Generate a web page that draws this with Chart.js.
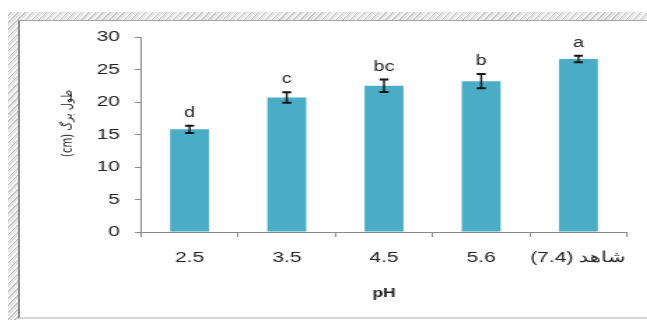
<!DOCTYPE html>
<html>
<head>
<meta charset="utf-8">
<script src="https://cdn.jsdelivr.net/npm/chart.js@4"></script>
<style>
body { margin:0; background:#fff; width:647px; height:320px; overflow:hidden; position:relative; }
.hatch { position:absolute; background: repeating-linear-gradient(135deg, #f3f3f3 0 2px, #c9c9c9 2px 3px, #e4e4e4 3px 5px); }
#top { left:8px; top:12px; width:639px; height:8px; }
#left { left:8px; top:12px; width:10px; height:308px; }
#frame { position:absolute; left:18px; top:20px; width:629px; height:296px; border-left:2px solid #8c8c8c; border-top:1px solid #a6a6a6; border-bottom:2px solid #d4d4d4; }
#wrap { position:absolute; left:20px; top:22px; width:448px; height:294px; transform:scaleX(1.4); transform-origin:0 0; }
</style>
</head>
<body>
<div class="hatch" id="top"></div>
<div class="hatch" id="left"></div>
<div id="frame"></div>
<div id="wrap"><canvas id="chart" width="448" height="294" dir="rtl"></canvas></div>
<script>
// values
const categories = ['2.5', '3.5', '4.5', '5.6', 'شاهد (7.4)'];
const leafLength = [15.8, 20.7, 22.5, 23.2, 26.6];
const stdError = [0.55, 0.8, 0.95, 1.1, 0.5];
const groupLetters = ['d', 'c', 'bc', 'b', 'a'];
const yMin = 0, yMax = 30, yStep = 5;

const axisGray = '#8a8a8a';
const textCol = '#222';

// error bars + letters drawn on top of the bars
let errorBars = {
    id: 'errorBars',
    afterDatasetsDraw: chart => {
        let ctx = chart.ctx;
        let y = chart.scales.y;
        let meta = chart.getDatasetMeta(0);
        ctx.save();
        meta.data.forEach((bar, i) => {
            let top = y.getPixelForValue(leafLength[i] + stdError[i]);
            let bot = y.getPixelForValue(leafLength[i] - stdError[i]);
            ctx.strokeStyle = '#111';
            ctx.lineWidth = 1.4;
            ctx.beginPath();
            ctx.moveTo(bar.x, top);
            ctx.lineTo(bar.x, bot);
            ctx.stroke();
            ctx.lineWidth = 2;
            ctx.beginPath();
            ctx.moveTo(bar.x - 3.2, top);
            ctx.lineTo(bar.x + 3.2, top);
            ctx.moveTo(bar.x - 3.2, bot);
            ctx.lineTo(bar.x + 3.2, bot);
            ctx.stroke();

            ctx.fillStyle = textCol;
            ctx.font = '14px "Liberation Sans", Arial, sans-serif';
            ctx.textAlign = 'center';
            ctx.textBaseline = 'alphabetic';
            ctx.fillText(groupLetters[i], bar.x, top - 9);
        });
        ctx.restore();
    }
};

new Chart(document.getElementById('chart'), {
    type: 'bar',
    data: {
        labels: categories,
        datasets: [{
            data: leafLength,
            backgroundColor: '#4BACC6',
            borderWidth: 0,
            barPercentage: 0.4,
            categoryPercentage: 1
        }]
    },
    options: {
        responsive: false,
        animation: false,
        layout: { padding: { left: 28, right: 14.4, top: 15, bottom: 15.2 } },
        plugins: { legend: { display: false }, tooltip: { enabled: false } },
        scales: {
            x: {
                grid: { display: true, drawOnChartArea: false, offset: true, tickLength: 5, color: axisGray },
                border: { color: axisGray, width: 1 },
                ticks: {
                    color: textCol, padding: 12, maxRotation: 0, minRotation: 0, autoSkip: false,
                    font: { family: '"Liberation Sans", Arial, sans-serif', size: 15 }
                },
                title: {
                    display: true,
                    text: 'pH',
                    color: textCol,
                    padding: 0,
                    font: { family: '"Liberation Sans", Arial, sans-serif', size: 12.5, weight: 'bold' }
                },
                afterFit: s => { s.height = 68.8; }
            },
            y: {
                min: yMin,
                max: yMax,
                grid: { display: true, drawOnChartArea: false, tickLength: 4.3, color: axisGray },
                border: { color: axisGray, width: 1 },
                ticks: { stepSize: yStep, color: textCol, padding: 10.7, font: { family: '"Liberation Sans", Arial, sans-serif', size: 15 } },
                title: {
                    display: true,
                    // trailing spaces push the rotated title a bit upwards, like the original
                    text: 'طول برگ (cm)\u00a0\u00a0\u00a0\u00a0\u00a0\u00a0\u00a0',
                    color: textCol,
                    padding: 0,
                    font: { family: '"DejaVu Sans", sans-serif', size: 10 }
                },
                afterFit: s => {
                    s.width = 58.4;
                    // don't let the tick label padding push the plot top down
                    s.paddingTop = 0;
                    s.paddingBottom = 0;
                }
            }
        }
    },
    plugins: [errorBars]
});
</script>
</body>
</html>
